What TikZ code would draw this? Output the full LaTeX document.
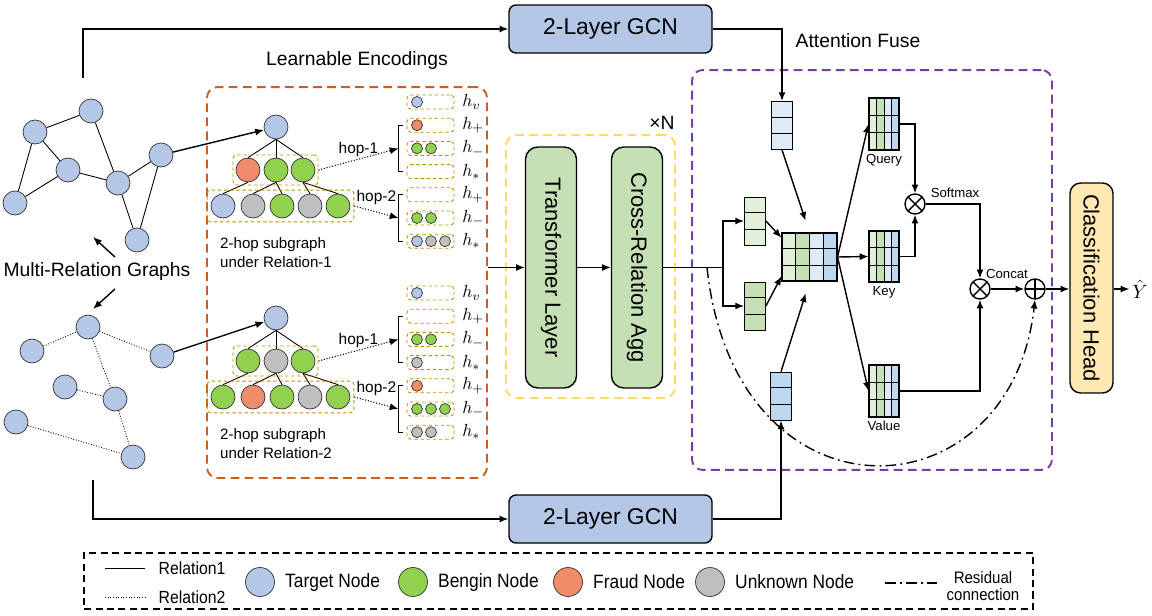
\documentclass[tikz,border=0pt]{standalone}
\usepackage{fontspec}
\setmainfont{Liberation Sans}
\usepackage{graphicx}
\usetikzlibrary{positioning,calc,fit,arrows.meta}

\definecolor{tgt}{RGB}{180,199,231}
\definecolor{bng}{RGB}{146,208,80}
\definecolor{frd}{RGB}{240,140,105}
\definecolor{unk}{RGB}{191,191,191}
\definecolor{slotc}{RGB}{191,144,0}
\definecolor{encc}{RGB}{200,95,30}
\definecolor{rptc}{RGB}{255,217,102}
\definecolor{attc}{RGB}{120,60,170}
\definecolor{laygrn}{RGB}{197,224,180}
\definecolor{headc}{RGB}{255,233,178}
\definecolor{lgrnv}{RGB}{226,240,217}
\definecolor{grnv}{RGB}{197,224,180}
\definecolor{lbluv}{RGB}{222,235,247}
\definecolor{bluv}{RGB}{189,215,238}

\newcommand{\fsgcn}{\fontsize{13}{15}\selectfont}
\newcommand{\fsmid}{\fontsize{11}{13}\selectfont}
\newcommand{\fslay}{\fontsize{12.5}{14}\selectfont}
\newcommand{\fssub}{\fontsize{8.6}{10.8}\selectfont}
\newcommand{\fshop}{\fontsize{8.8}{10}\selectfont}
\newcommand{\fsatt}{\fontsize{7.5}{9}\selectfont}
\newcommand{\fsmath}{\fontsize{10}{12}\selectfont}
\newcommand{\fsrel}{\fontsize{10}{12}\selectfont}
\newcommand{\fsres}{\fontsize{9.5}{10.2}\selectfont}
\newcommand{\cond}[1]{\scalebox{0.9}[1]{#1}}

\tikzset{
  gnode/.style={circle, draw=black!80, fill=tgt, minimum size=0.48cm, inner sep=0pt},
  rel1/.style={draw, line width=0.5pt},
  rel2/.style={draw, line width=0.5pt, densely dotted},
  grp/.style={draw=slotc, line width=0.5pt, dash pattern=on 2pt off 1.5pt, rounded corners=2pt},
  slot/.style={grp, minimum width=0.94cm, minimum height=0.28cm, inner sep=0pt},
  enc/.style={circle, draw=black!80, line width=0.4pt, minimum size=0.22cm, inner sep=0pt},
  hop/.style={line width=0.6pt, densely dotted, ->},
  conn/.style={thick, ->},
  encbox/.style={draw=encc, line width=1.1pt, dash pattern=on 5pt off 3pt, rounded corners=6pt},
  rptbox/.style={draw=rptc, line width=1.1pt, dash pattern=on 5pt off 3pt, rounded corners=6pt},
  attbox/.style={draw=attc, line width=1.1pt, dash pattern=on 5pt off 3pt, rounded corners=6pt},
  lgdbox/.style={draw, line width=1pt, dash pattern=on 4pt off 2.5pt},
  gcn/.style={draw, thick, fill=tgt, rounded corners=4pt, minimum width=4.06cm, minimum height=0.96cm, font=\fsgcn},
  layer/.style={draw, thick, fill=laygrn, rounded corners=7pt, minimum width=1.02cm, minimum height=4.82cm, inner sep=0pt, font=\fslay},
  head/.style={draw, thick, fill=headc, rounded corners=6pt, minimum width=0.86cm, minimum height=4.2cm, inner sep=0pt, font=\fslay},
  vec/.style={draw, line width=0.5pt, minimum width=0.42cm, minimum height=0.96cm, inner sep=0pt},
  mul/.style={circle, draw, thick, fill=white, minimum size=0.4cm, inner sep=0pt,
    path picture={\draw[thick] (path picture bounding box.south west) -- (path picture bounding box.north east)
      (path picture bounding box.north west) -- (path picture bounding box.south east);}},
  add/.style={circle, draw, thick, fill=white, minimum size=0.4cm, inner sep=0pt,
    path picture={\draw[thick] (path picture bounding box.north) -- (path picture bounding box.south)
      (path picture bounding box.west) -- (path picture bounding box.east);}},
  lbl/.style={font=\fsatt, inner sep=2pt},
  resid/.style={thick, dash pattern=on 6pt off 2.5pt on 1pt off 2.5pt},
  lgdc/.style={circle, draw=black!80, minimum size=0.58cm, inner sep=0pt},
  lgdtxt/.style={font=\fsmid, inner sep=0pt}
}

% vector with three cells
\newcommand{\vecnode}[4]{%
  \node[vec, fill=#4] (#1) at (#2,#3) {};
  \draw[line width=0.5pt] ($(#1.north west)!1/3!(#1.south west)$) -- ($(#1.north east)!1/3!(#1.south east)$)
    ($(#1.north west)!2/3!(#1.south west)$) -- ($(#1.north east)!2/3!(#1.south east)$);
}
% feature matrix, 4 columns x 3 rows
\newcommand{\featmat}[5]{%
  \foreach \k/\col in {0/lgrnv,1/grnv,2/lbluv,3/bluv}
    \fill[fill=\col] ({#2-#4/2+\k*#4/4},{#3-#5/2}) rectangle ++({#4/4},#5);
  \node[draw, line width=0.6pt, minimum width=#4*0.02cm, minimum height=#5*0.02cm, inner sep=0pt] (#1) at (#2,#3) {};
  \foreach \i in {1,2,3}
    \draw[line width=0.5pt] ($(#1.north west)!\i/4!(#1.north east)$) -- ($(#1.south west)!\i/4!(#1.south east)$);
  \foreach \i in {1,2}
    \draw[line width=0.5pt] ($(#1.north west)!\i/3!(#1.south west)$) -- ($(#1.north east)!\i/3!(#1.south east)$);
}

\begin{document}
\begin{tikzpicture}[x=0.02cm, y=-0.02cm, >={Latex[length=5pt,width=4pt]}]
\useasboundingbox (0,0) rectangle (1152,615);

% multi-relation graphs
\node[gnode] (g1a) at (35,132) {};
\node[gnode] (g1b) at (91,111) {};
\node[gnode] (g1c) at (68,170) {};
\node[gnode] (g1d) at (15,203) {};
\node[gnode] (g1e) at (118,183) {};
\node[gnode] (g1f) at (161,155) {};
\node[gnode] (g1g) at (137,240) {};
\foreach \u/\v in {a/b,a/c,a/d,c/d,c/e,b/e,e/f,e/g,f/g}
  \draw[rel1] (g1\u) -- (g1\v);

\node[gnode] (g2a) at (88,327) {};
\node[gnode] (g2b) at (32,351) {};
\node[gnode] (g2c) at (162,356) {};
\node[gnode] (g2d) at (65,387) {};
\node[gnode] (g2e) at (115,399) {};
\node[gnode] (g2f) at (16,422) {};
\node[gnode] (g2g) at (133,457) {};
\foreach \u/\v in {b/a,a/c,a/e,d/e,e/g,f/g}
  \draw[rel2] (g2\u) -- (g2\v);

\node[font=\fsmid] (mrg) at (97,272) {Multi-Relation Graphs};
\coordinate (mrgA) at (115,257);
\coordinate (mrgB) at (93,237);
\coordinate (mrgC) at (115,289);
\coordinate (mrgD) at (93,309);
\draw[conn] (mrgA) -- (mrgB);
\draw[conn] (mrgC) -- (mrgD);

% learnable encodings
\node[encbox, minimum width=5.6cm, minimum height=7.82cm] (enc) at (347,282.5) {};
\node[font=\fsmid] (encl) at (357,61) {Learnable Encodings};

\foreach \r/\dy/\fa/\fb/\fc/\fd/\fe/\ff/\fg/\fh in
  {1/0/frd/bng/bng/tgt/unk/bng/unk/bng, 2/191/bng/unk/bng/bng/frd/bng/unk/bng}{
  \node[gnode] (s\r) at (276,127+\dy) {};
  \node[gnode, fill=\fa] (s\r-a) at (248,170+\dy) {};
  \node[gnode, fill=\fb] (s\r-b) at (276,170+\dy) {};
  \node[gnode, fill=\fc] (s\r-c) at (303,170+\dy) {};
  \node[gnode, fill=\fd] (s\r-d) at (223,206+\dy) {};
  \node[gnode, fill=\fe] (s\r-e) at (253,206+\dy) {};
  \node[gnode, fill=\ff] (s\r-f) at (282,206+\dy) {};
  \node[gnode, fill=\fg] (s\r-g) at (310,206+\dy) {};
  \node[gnode, fill=\fh] (s\r-h) at (338,206+\dy) {};
  \foreach \u in {a,b,c}
    \draw[rel1] (s\r.south) -- (s\r-\u.north);
  \foreach \u/\v in {a/d,b/e,b/f,c/g,c/h}
    \draw[rel1] (s\r-\u.south) -- (s\r-\v.north);
  \node[grp, fit=(s\r-a)(s\r-c), inner sep=1.5pt] (hA\r) {};
  \node[grp, fit=(s\r-d)(s\r-h), inner sep=2pt] (hB\r) {};
  \node[font=\fssub, align=left, anchor=west] (cap\r) at (214,253+\dy) {2-hop subgraph\\under Relation-\r};
  % encoding slots
  \foreach \k/\lab in {0/v,1/+,2/-,3/*,4/+,5/-,6/*}{
    \node[slot] (e\r-\k) at (430.5,102+\k*23.2+\dy) {};
    \node[font=\fsmath, anchor=west, inner sep=0pt] (l\r-\k) at (462,102+\k*23.2+\dy) {$h_{\lab}$};
  }
  \draw[line width=0.6pt] ([xshift=-2pt]e\r-1.west) -- ++(-5,0) |- ([xshift=-2pt]e\r-3.west);
  \draw[line width=0.6pt] ([xshift=-2pt]e\r-4.west) -- ++(-5,0) |- ([xshift=-2pt]e\r-6.west);
  \coordinate (b\r-1) at (398.5,148.4+\dy);
  \coordinate (b\r-2) at (398.5,218+\dy);
  \draw[hop] (hA\r.east) -- node[above=1pt, inner sep=0pt, font=\fshop] {hop-1} (b\r-1);
  \draw[hop] (hB\r.east) -- node[above=4pt, inner sep=0pt, font=\fshop] {hop-2} (b\r-2);
}

\foreach \k/\i/\cl in {0/1/tgt,1/1/frd,2/1/bng,2/2/bng,5/1/bng,5/2/bng,6/1/tgt,6/2/unk,6/3/unk}
  \node[enc, fill=\cl] (c1-\k-\i) at (417+\i*14-14,102+\k*23.2) {};
\foreach \k/\i/\cl in {0/1/tgt,2/1/bng,2/2/bng,3/1/unk,4/1/frd,5/1/bng,5/2/bng,5/3/bng,6/1/unk,6/2/unk}
  \node[enc, fill=\cl] (c2-\k-\i) at (417+\i*14-14,293+\k*23.2) {};

\draw[conn] (g1f) -- (s1);
\draw[conn] (g2c) -- (s2);

% transformer block
\node[rptbox, minimum width=3.38cm, minimum height=5.26cm] (rpt) at (590.5,266.5) {};
\node[font=\fsmid, anchor=east, inner sep=0pt] (rptn) at (675,123) {×N};
\node[layer] (trf) at (551,267.5) {\rotatebox{-90}{Transformer Layer}};
\node[layer] (cra) at (637,267.5) {\rotatebox{-90}{Cross-Relation Agg}};
\draw[conn] (enc.east |- trf.west) -- (trf.west);
\draw[conn] (trf.east) -- (cra.west);

% GCN branches
\node[gcn] (gcn1) at (610.5,29) {2-Layer GCN};
\node[gcn] (gcn2) at (610.5,519) {2-Layer GCN};
\coordinate (g1up) at (83,78);
\coordinate (g2dn) at (93,480);
\draw[conn] (g1up) |- (gcn1.west);
\draw[conn] (g2dn) |- (gcn2.west);

% attention fuse
\node[attbox, minimum width=7.2cm, minimum height=8cm] (att) at (872,270) {};
\node[font=\fsmid] (attl) at (858,41) {Attention Fuse};

\vecnode{vq}{782}{125.5}{lbluv}
\vecnode{vl1}{755}{221}{lgrnv}
\vecnode{vl2}{755}{306}{grnv}
\vecnode{vk}{781}{396}{bluv}
\featmat{mat}{809.5}{257}{55}{48}
\featmat{mq}{884}{124}{30}{52}
\featmat{mk}{884}{256.5}{30}{51}
\featmat{mv}{884}{391}{30}{52}
\node[lbl, below=0pt of mq] (ql) {Query};
\node[lbl, below=0pt of mk] (kl) {Key};
\node[lbl, below=0pt of mv] (vl) {Value};

\coordinate (split) at (723,267.5);
\coordinate (rs) at (707,267.5);
\draw[thick] (cra.east) -- (split);
\draw[conn] (split) |- (vl1.west);
\draw[conn] (split) |- (vl2.west);
\draw[conn] (gcn1.east) -| (vq.north);
\draw[conn] (gcn2.east) -| (vk.south);
\draw[conn, shorten >=7pt] (vq.south) -- (mat.north);
\draw[conn, shorten >=7pt] (vk.north) -- (mat.south);
\draw[conn] (vl1.east) -- ([yshift=-3pt]mat.north west);
\draw[conn] (vl2.east) -- ([yshift=3pt]mat.south west);
\draw[conn] (mat.east) -- (mq.west);
\draw[conn] (mat.east) -- (mk.west);
\draw[conn] (mat.east) -- (mv.west);

\node[mul] (ot1) at (915,204) {};
\node[mul] (ot2) at (980,289) {};
\node[add] (opl) at (1035,289) {};
\node[lbl] (smx) at (955,193) {Softmax};
\node[lbl] (cct) at (1007,274) {Concat};
\draw[conn] (mq.east) -| (ot1.north);
\draw[conn] (mk.east) -| (ot1.south);
\draw[conn] (ot1.east) -| (ot2.north);
\draw[conn] (mv.east) -| (ot2.south);
\draw[conn] (ot2.east) -- (opl.west);
\draw[resid, ->] (rs) .. controls (735,530) and (1010,520) .. (opl.south);

% classification
\node[head] (head) at (1091.5,288) {\rotatebox{-90}{Classification Head}};
\node[font=\fsmid, inner sep=0pt, anchor=west] (yhat) at (1132,289) {$\hat{Y}$};
\draw[conn] (opl.east) -- (opl.east -| head.west);
\draw[conn] (head.east |- yhat) -- ([xshift=-1.5pt]yhat.west);

% legend
\node[lgdbox, minimum width=18.98cm, minimum height=1.12cm] (lgd) at (558.5,581) {};
\draw[rel1] (105,568) -- (145,568);
\draw[rel2] (105,597) -- (145,597);
\node[font=\fsrel, inner sep=0pt] (lr1) at (192,568) {\cond{Relation1}};
\node[font=\fsrel, inner sep=0pt] (lr2) at (192,597) {\cond{Relation2}};
\node[lgdc, fill=tgt] (lt) at (260,582) {};
\node[lgdtxt, right=0.2cm of lt] (ltt) {\cond{Target Node}};
\node[lgdc, fill=bng] (lb) at (413,582) {};
\node[lgdtxt, right=0.2cm of lb] (lbt) {\cond{Bengin Node}};
\node[lgdc, fill=frd] (lf) at (568,582) {};
\node[lgdtxt, right=0.2cm of lf] (lft) {\cond{Fraud Node}};
\node[lgdc, fill=unk] (lu) at (710,582) {};
\node[lgdtxt, right=0.2cm of lu] (lut) {\cond{Unknown Node}};
\draw[resid] (885,583) -- (937,583);
\node[font=\fsres, align=center, inner sep=0pt] (lres) at (983,586) {\cond{Residual}\\\cond{connection}};
\end{tikzpicture}
\end{document}
